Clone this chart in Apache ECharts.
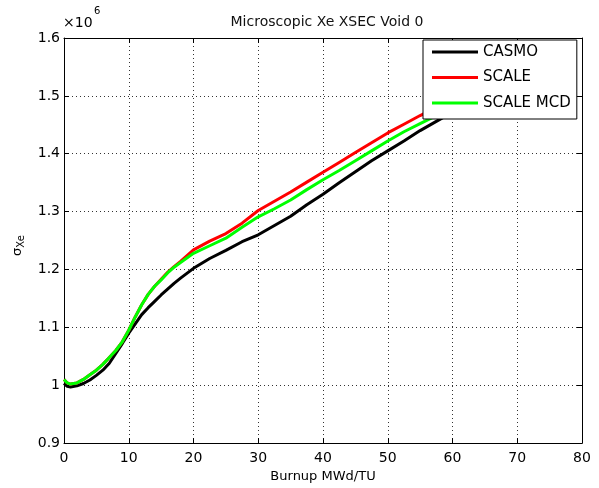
<!DOCTYPE html>
<html>
<head>
<meta charset="utf-8">
<script src="https://cdn.jsdelivr.net/npm/echarts@6/dist/echarts.min.js"></script>
<style>html,body{margin:0;padding:0;background:#fff;}#c{width:599px;height:488px;}</style>
</head>
<body>
<div id="c"></div>
<script>
// Burnup (MWd/TU)
const burnup = [0,0.5,1,2,3,4,5,6,7,8,9,10,11,12,13,14,15,16,17,18,20,22.5,25,27.5,30,32.5,35,37.5,40,42.5,45,47.5,50,52.5,55,57.5,60];
// Microscopic Xe cross-section (x 1e6)
const casmo = [1.003,0.998,0.997,0.999,1.003,1.009,1.017,1.026,1.038,1.055,1.072,1.090,1.106,1.122,1.134,1.145,1.156,1.166,1.176,1.185,1.202,1.219,1.233,1.248,1.260,1.276,1.292,1.312,1.330,1.350,1.369,1.388,1.405,1.422,1.440,1.456,1.472];
const scale = [1.010,1.004,1.002,1.004,1.010,1.018,1.026,1.036,1.048,1.060,1.075,1.095,1.118,1.139,1.157,1.171,1.183,1.195,1.205,1.214,1.234,1.249,1.262,1.280,1.302,1.318,1.334,1.351,1.368,1.385,1.402,1.419,1.436,1.451,1.466,1.480,1.494];
const scaleMcd = [1.010,1.004,1.002,1.004,1.010,1.018,1.026,1.036,1.048,1.060,1.075,1.095,1.118,1.139,1.157,1.171,1.182,1.194,1.204,1.212,1.228,1.241,1.254,1.273,1.291,1.305,1.320,1.338,1.355,1.371,1.388,1.405,1.422,1.438,1.452,1.466,1.480];
const seriesNames = ['CASMO','SCALE','SCALE MCD'];
const seriesColors = ['#000000','#ff0000','#00ff00'];
const xTicks = {min:0, max:80, interval:10};
const yTicks = {min:0.9, max:1.6, interval:0.1};

const FONT = 'DejaVu Sans';
const pair = arr => burnup.map((x,i)=>[x,arr[i]]);
const vals = [casmo, scale, scaleMcd];

const chart = echarts.init(document.getElementById('c'), null, {renderer:'canvas'});
const axisLine = {show:true, onZero:false, lineStyle:{color:'#000', width:1}};
const axisTick = {show:true, inside:true, length:5, lineStyle:{color:'#000', width:1}};
const splitLine = {show:true, lineStyle:{color:'#333', width:1, type:[1,3]}};
chart.setOption({
  animation:false,
  backgroundColor:'#fff',
  title:{text:'Microscopic Xe XSEC Void 0', left:322, top:10, textAlign:'center',
    textStyle:{fontFamily:FONT, fontSize:14, fontWeight:'normal', color:'#111'}},
  grid:{left:64, right:17, top:38, bottom:42, containLabel:false},
  legend:{orient:'vertical', left:423, top:40, data:seriesNames, icon:'rect', z:10,
    itemWidth:46, itemHeight:3, itemGap:9.5,
    padding:[4,6,8,9], backgroundColor:'#fff', borderColor:'#000', borderWidth:1, borderRadius:0,
    textStyle:{fontFamily:FONT, fontSize:15, lineHeight:16, color:'#000'}},
  xAxis:[
    {type:'value', position:'bottom', min:xTicks.min, max:xTicks.max, interval:xTicks.interval,
     axisLine, axisTick, splitLine,
     axisLabel:{fontFamily:FONT, fontSize:14, color:'#000', margin:8},
     name:'Burnup MWd/TU', nameLocation:'middle', nameGap:24,
     nameTextStyle:{fontFamily:FONT, fontSize:13, color:'#000'}},
    {type:'value', position:'top', min:xTicks.min, max:xTicks.max, interval:xTicks.interval,
     axisLine, axisTick, splitLine:{show:false}, axisLabel:{show:false}}
  ],
  yAxis:[
    {type:'value', position:'left', min:yTicks.min, max:yTicks.max, interval:yTicks.interval,
     axisLine, axisTick, splitLine,
     axisLabel:{fontFamily:FONT, fontSize:14, color:'#000', margin:4,
       formatter:v=>String(+v.toFixed(1))}},
    {type:'value', position:'right', min:yTicks.min, max:yTicks.max, interval:yTicks.interval,
     axisLine, axisTick, splitLine:{show:false}, axisLabel:{show:false}}
  ],
  graphic:[
    {type:'text', left:63, top:16, style:{text:'×10', fontFamily:FONT, fontSize:14, fill:'#000'}},
    {type:'text', left:94, top:6, style:{text:'6', fontFamily:FONT, fontSize:10, fill:'#000'}},
    {type:'text', x:10, y:256, rotation:Math.PI/2,
     style:{text:'{a|σ}{b|Xe}', fill:'#000', rich:{
       a:{fontFamily:FONT, fontSize:13, fill:'#000'},
       b:{fontFamily:FONT, fontSize:10, fill:'#000', verticalAlign:'bottom', padding:[6,0,0,0]}}}}
  ],
  series:seriesNames.map((n,i)=>({
    name:n, type:'line', data:pair(vals[i]), symbol:'none', smooth:false, z:2,
    lineStyle:{color:seriesColors[i], width:3}, itemStyle:{color:seriesColors[i]}
  }))
});
</script>
</body>
</html>
